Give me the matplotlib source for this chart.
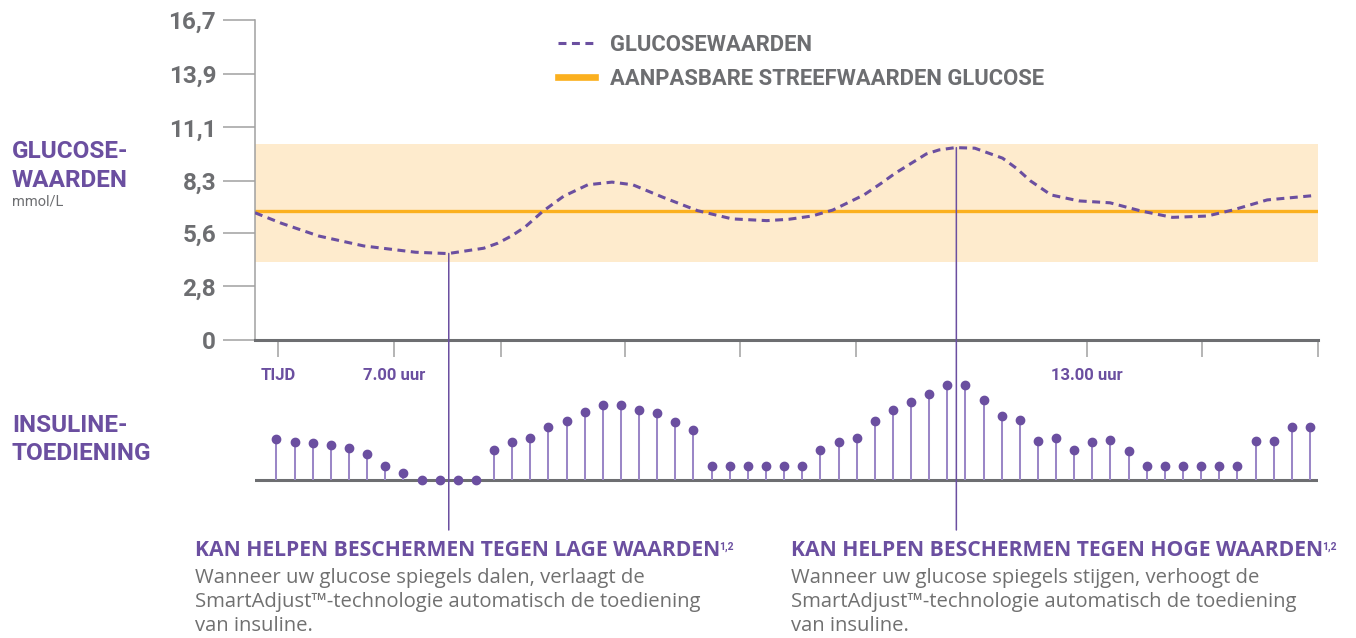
import matplotlib.pyplot as plt
import numpy as np
from matplotlib.patches import ConnectionPatch

# glucose curve (hours, mmol/L)
glucose_hours = [5.80, 6.03, 6.35, 6.74, 7.19, 7.47, 7.78, 7.90, 8.02, 8.14, 8.29, 8.47,
                 8.68, 8.89, 9.07, 9.33, 9.63, 9.93, 10.23, 10.42, 10.62, 10.80, 11.07,
                 11.22, 11.34, 11.61, 11.72, 11.86, 12.03, 12.27, 12.39, 12.51, 12.69,
                 12.93, 13.20, 13.47, 13.74, 14.04, 14.26, 14.56, 14.95]
glucose_values = [6.64, 6.09, 5.43, 4.91, 4.58, 4.51, 4.79, 5.05, 5.43, 5.91, 6.71, 7.50,
                  8.10, 8.24, 8.10, 7.45, 6.75, 6.32, 6.23, 6.30, 6.47, 6.78, 7.57,
                  8.18, 8.70, 9.71, 9.92, 10.04, 10.01, 9.49, 8.96, 8.31, 7.57,
                  7.26, 7.16, 6.73, 6.40, 6.47, 6.78, 7.31, 7.53]

target_value = 6.75
range_low, range_high = 4.09, 10.23

y_ticks = [0, 2.8, 5.6, 8.3, 11.1, 13.9, 16.7]
y_tick_labels = ['0', '2,8', '5,6', '8,3', '11,1', '13,9', '16,7']
x_ticks = [6, 7, 7.93, 9, 10, 11, 13, 14, 15]
x_tick_labels = ['TIJD', '7.00 uur', '', '', '', '', '13.00 uur', '', '']

# insulin delivery (relative amount per pulse)
insulin_doses = [41, 38.3, 36.7, 34.7, 32, 26, 14.3, 7, 0, 0, 0, 0,
                 30, 37.7, 42.3, 53.3, 59.3, 67.7, 74.7, 74.7, 70, 67.3, 57.7, 49.7,
                 14, 14, 14, 14, 14, 14,
                 30, 37.7, 42.3, 59, 70, 78.3, 86.3, 95.3, 95.3, 80.3, 64.3, 60.3,
                 39, 42, 30, 37.7, 39.7, 29.3,
                 14, 14, 14, 14, 14, 14,
                 39, 39, 52.7, 52.7]
dose_first_hour, dose_last_hour = 5.986, 14.93

marker_hours = [7.477, 11.87]

PURPLE = '#6b4fa0'
LIGHT_PURPLE = '#9b87c7'
GRAY = '#6d6e71'
TICK_GRAY = '#a0a0a0'
ORANGE = '#fbb01f'
BAND = '#feebcd'

W, H = 1356, 638
plt.rcParams['font.family'] = ['Roboto', 'DejaVu Sans']
CAPTION_FONT = ['Open Sans', 'DejaVu Sans']


def fx(px):
    return px / W


def fy(py):
    return 1 - py / H


fig = plt.figure(figsize=(W / 100, H / 100), dpi=100)
ax = fig.add_axes([fx(255), fy(340), (1318 - 255) / W, (340 - 20) / H])
axb = fig.add_axes([fx(255), fy(530), (1318 - 255) / W, (530 - 375) / H])

# top panel: glucose
ax.axhspan(range_low, range_high, color=BAND, lw=0, zorder=1)
target_line = ax.axhline(target_value, color=ORANGE, lw=2.4, zorder=2)
curve, = ax.plot(glucose_hours, glucose_values, color=PURPLE, lw=2.2,
                 dashes=(2.6, 1.8), zorder=3)

ax.set_xlim(5.80, 15.0)
ax.set_ylim(0, 16.7)
for s in ['top', 'right']:
    ax.spines[s].set_visible(False)
ax.spines['left'].set_color(TICK_GRAY)
ax.spines['left'].set_linewidth(1.1)
ax.spines['bottom'].set_color(GRAY)
ax.spines['bottom'].set_linewidth(2.2)

ax.set_yticks(y_ticks)
ax.set_yticklabels(y_tick_labels)
ax.tick_params(axis='y', length=23, width=1.1, color=TICK_GRAY, pad=5,
               labelsize=17.5, labelcolor=GRAY)
for t in ax.get_yticklabels():
    t.set_fontweight('bold')

ax.set_xticks(x_ticks)
ax.set_xticklabels(x_tick_labels)
ax.tick_params(axis='x', length=12, width=1.1, color=TICK_GRAY, pad=8.5,
               labelsize=12, labelcolor=PURPLE)
for t in ax.get_xticklabels():
    t.set_fontweight('bold')

leg = ax.legend([curve, target_line], ['GLUCOSEWAARDEN', 'AANPASBARE STREEFWAARDEN GLUCOSE'],
                loc='upper left', bbox_to_anchor=(fx(558), fy(34)), bbox_transform=fig.transFigure,
                frameon=False, borderpad=0, borderaxespad=0, handlelength=1.7,
                handletextpad=0.65, labelspacing=0.55,
                prop={'size': 15.8, 'weight': 'bold'})
for t in leg.get_texts():
    t.set_color(GRAY)
leg.get_lines()[1].set_linewidth(4.8)

# bottom panel: insulin pulses
dose_hours = np.linspace(dose_first_hour, dose_last_hour, len(insulin_doses))
axb.axhline(0, color=GRAY, lw=2.2, zorder=1)
axb.vlines(dose_hours, 0, insulin_doses, color=LIGHT_PURPLE, lw=1.45, zorder=2)
axb.plot(dose_hours, insulin_doses, 'o', ms=6, color=PURPLE, zorder=3)
axb.set_xlim(5.80, 15.0)
axb.set_ylim(-50, 105)
axb.axis('off')

# vertical marker lines from curve down into the insulin panel
for h in marker_hours:
    top = np.interp(h, glucose_hours, glucose_values)
    con = ConnectionPatch(xyA=(h, top), coordsA=ax.transData,
                          xyB=(h, -50), coordsB=axb.transData,
                          color=PURPLE, lw=1.1, zorder=5)
    fig.add_artist(con)

# side labels
lab = dict(color=PURPLE, fontsize=17.5, fontweight='bold', va='baseline', ha='left')
fig.text(fx(12), fy(158), 'GLUCOSE-', **lab)
fig.text(fx(12), fy(187), 'WAARDEN', **lab)
fig.text(fx(12), fy(206), 'mmol/L', color=GRAY, fontsize=10.5, va='baseline', ha='left')
fig.text(fx(12), fy(432), 'INSULINE-', **lab)
fig.text(fx(12), fy(460), 'TOEDIENING', **lab)

# captions
captions = [
    (195, 'KAN HELPEN BESCHERMEN TEGEN LAGE WAARDEN',
     ['Wanneer uw glucose spiegels dalen, verlaagt de',
      'SmartAdjust\u2122-technologie automatisch de toediening',
      'van insuline.']),
    (791, 'KAN HELPEN BESCHERMEN TEGEN HOGE WAARDEN',
     ['Wanneer uw glucose spiegels stijgen, verhoogt de',
      'SmartAdjust\u2122-technologie automatisch de toediening',
      'van insuline.']),
]
for x0, head, body in captions:
    ht = fig.text(fx(x0), fy(556), head, color=PURPLE, fontsize=15.2, family=CAPTION_FONT,
                  fontweight='bold', va='baseline', ha='left')
    ax.annotate('1,2', xy=(1, 1), xycoords=ht, xytext=(-0.5, -1.5), textcoords='offset points',
                color=PURPLE, fontsize=7.5, fontweight='bold', va='top', ha='left',
                annotation_clip=False)
    for i, line in enumerate(body):
        fig.text(fx(x0), fy(583 + 24 * i), line, color='#707070', fontsize=14.6,
                 family=CAPTION_FONT, va='baseline', ha='left')

fig.savefig('out.png', dpi=100)
